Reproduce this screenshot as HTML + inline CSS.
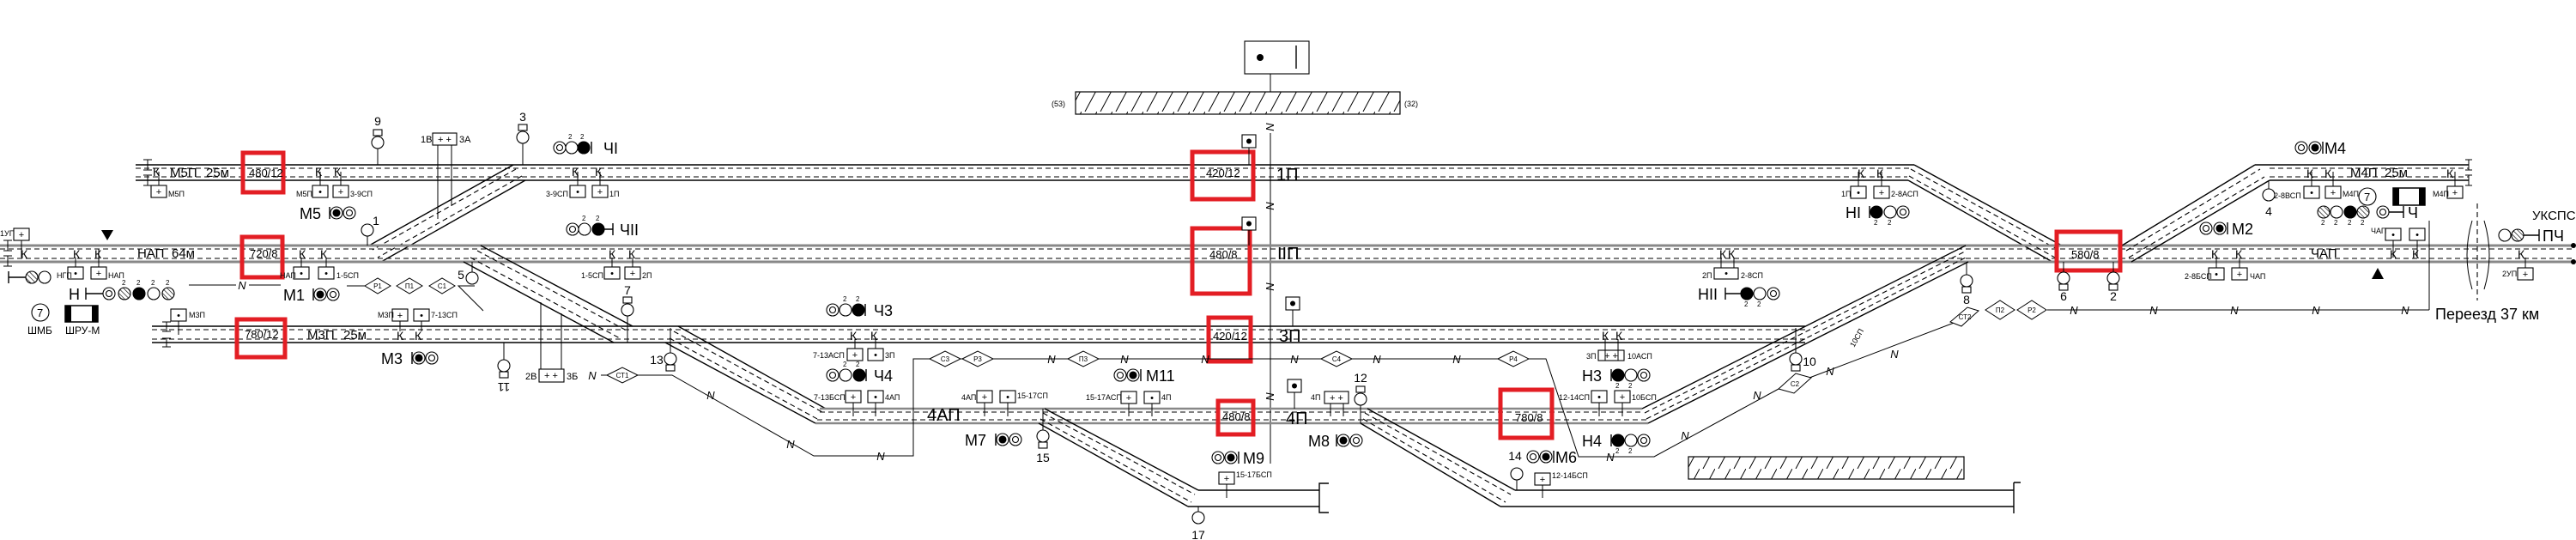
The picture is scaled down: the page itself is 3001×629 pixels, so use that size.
<!DOCTYPE html>
<html><head><meta charset="utf-8"><style>
html,body{margin:0;padding:0;background:#fff;}
svg{display:block;font-family:"Liberation Sans",sans-serif;}
.t{stroke:#000;stroke-width:1.4;fill:none}
.g{stroke:#888;stroke-width:3;fill:none}
.g2{stroke:#888;stroke-width:2.4;fill:none}
.d{stroke:#000;stroke-width:1.1;stroke-dasharray:6,4;fill:none}
.l{stroke:#000;stroke-width:1;fill:none}
.r{stroke:#e31e24;stroke-width:5;fill:none}
.bx{fill:#fff;stroke:#000;stroke-width:1.1}
.w{fill:#fff;stroke:#000;stroke-width:1.1}
.b{fill:#000;stroke:#000;stroke-width:1.1}
.h{fill:url(#hc);stroke:#000;stroke-width:1.1}
text{fill:#000}
.s{font-size:9px}
.k{font-size:14px}
.m{font-size:18px}
.n{font-size:13px;font-style:italic}
.dia{fill:#fff;stroke:#000;stroke-width:1}
</style></head><body>
<svg width="3001" height="629" viewBox="0 0 3001 629" xmlns="http://www.w3.org/2000/svg">
<defs>
<pattern id="hr" width="18" height="26" patternUnits="userSpaceOnUse"><line x1="4" y1="26" x2="18" y2="0" stroke="#000" stroke-width="1"/></pattern>
<pattern id="hc" width="4" height="4" patternUnits="userSpaceOnUse" patternTransform="rotate(-45)"><line x1="0" y1="0" x2="0" y2="4" stroke="#000" stroke-width="1.3"/></pattern>
</defs>

<rect x="1450" y="48" width="75" height="38" class="bx"/>
<circle cx="1468" cy="67" r="4" fill="#000"/>
<line x1="1510" y1="53" x2="1510" y2="80" class="t"/>
<line x1="1480" y1="86" x2="1480" y2="107" class="l"/>
<rect x="1253" y="107" width="378" height="26" fill="url(#hr)" stroke="#000" stroke-width="1.2"/>
<text x="1225" y="124" class="s" font-size="10">(53)</text>
<text x="1636" y="124" class="s" font-size="10">(32)</text>
<line x1="1480" y1="155" x2="1480" y2="540" class="l" stroke="#555"/>
<g class="n" font-size="12"><text transform="translate(1475,143) rotate(90)">N</text><text transform="translate(1475,235) rotate(90)">N</text><text transform="translate(1475,329) rotate(90)">N</text><text transform="translate(1475,457) rotate(90)">N</text></g>

<!-- Track 1П -->
<line x1="158" y1="192" x2="2230" y2="192" class="t"/>
<line x1="158" y1="210" x2="2223" y2="210" class="t"/>
<line x1="158" y1="196" x2="2225" y2="196" class="d"/>
<line x1="158" y1="206" x2="2222" y2="206" class="d"/>
<line x1="2230" y1="192" x2="2402" y2="286" class="t"/>
<line x1="2223" y1="210" x2="2391" y2="305" class="t"/>
<line x1="2226" y1="197" x2="2398" y2="291" class="d"/>
<line x1="2224" y1="205" x2="2394" y2="300" class="d"/>
<line x1="598" y1="192" x2="430" y2="286" class="t"/>
<line x1="612" y1="210" x2="444" y2="305" class="t"/>
<line x1="601" y1="197" x2="434" y2="291" class="d"/>
<line x1="608" y1="205" x2="440" y2="300" class="d"/>

<!-- Main track -->
<line x1="0" y1="286" x2="2998" y2="286" class="g"/>
<line x1="0" y1="305" x2="2998" y2="305" class="g"/>
<line x1="0" y1="290" x2="2998" y2="290" class="d"/>
<line x1="0" y1="301" x2="2998" y2="301" class="d"/>
<circle cx="2998" cy="286" r="3" fill="#000"/><circle cx="2998" cy="305" r="3" fill="#000"/>

<line x1="560" y1="286" x2="737" y2="380" class="t"/>
<line x1="540" y1="305" x2="715" y2="399" class="t"/>
<line x1="556" y1="292" x2="730" y2="385" class="d"/>
<line x1="548" y1="300" x2="722" y2="394" class="d"/>

<!-- Track 3П -->
<line x1="177" y1="380" x2="2103" y2="380" class="t"/>
<line x1="177" y1="399" x2="2103" y2="399" class="t"/>
<line x1="177" y1="384" x2="2103" y2="384" class="d"/>
<line x1="177" y1="395" x2="2103" y2="395" class="d"/>
<line x1="790" y1="380" x2="962" y2="476" class="t"/>
<line x1="775" y1="399" x2="950" y2="493" class="t"/>
<line x1="785" y1="386" x2="958" y2="480" class="d"/>
<line x1="780" y1="394" x2="954" y2="489" class="d"/>

<!-- Track 4П -->
<line x1="955" y1="476" x2="1913" y2="476" class="g2"/>
<line x1="950" y1="493" x2="1920" y2="493" class="g2"/>
<line x1="955" y1="480" x2="1915" y2="480" class="d"/>
<line x1="952" y1="489" x2="1918" y2="489" class="d"/>
<line x1="1913" y1="476" x2="2290" y2="286" class="t"/>
<line x1="1920" y1="493" x2="2293" y2="305" class="t"/>
<line x1="1916" y1="481" x2="2291" y2="292" class="d"/>
<line x1="1918" y1="488" x2="2292" y2="299" class="d"/>

<line x1="1217" y1="476" x2="1396" y2="571" class="t"/>
<line x1="1210" y1="493" x2="1384" y2="590" class="t"/>
<line x1="1215" y1="481" x2="1392" y2="576" class="d"/>
<line x1="1212" y1="488" x2="1388" y2="585" class="d"/>
<line x1="1396" y1="571" x2="1537" y2="571" class="t"/>
<line x1="1384" y1="590" x2="1537" y2="590" class="t"/>
<path d="M1548,563 H1537 V597 H1548" class="t"/>
<line x1="1593" y1="476" x2="1765" y2="571" class="t"/>
<line x1="1585" y1="493" x2="1748" y2="590" class="t"/>
<line x1="1590" y1="481" x2="1760" y2="576" class="d"/>
<line x1="1588" y1="488" x2="1754" y2="585" class="d"/>
<line x1="1765" y1="571" x2="2346" y2="571" class="t"/>
<line x1="1748" y1="590" x2="2346" y2="590" class="t"/>
<path d="M2346,562 V598 M2346,562 H2354" class="t"/>
<rect x="1967" y="532" width="321" height="26" fill="url(#hr)" stroke="#000" stroke-width="1.2"/>

<!-- M4П -->
<line x1="2627" y1="192" x2="2876" y2="192" class="t"/>
<line x1="2644" y1="210" x2="2876" y2="210" class="t"/>
<line x1="2472" y1="286" x2="2627" y2="192" class="t"/>
<line x1="2483" y1="305" x2="2644" y2="210" class="t"/>
<line x1="2477" y1="292" x2="2633" y2="197" class="d"/>
<line x1="2480" y1="300" x2="2638" y2="206" class="d"/>
<line x1="2644" y1="196" x2="2876" y2="196" class="d"/>
<line x1="2644" y1="206" x2="2876" y2="206" class="d"/>
<path d="M2872,186 h8 M2876,186 V198 M2872,198 h8 M2872,204 h8 M2876,204 V216 M2872,216 h8" class="l"/>

<path d="M167,186 h10 M172,186 V198 M167,198 h10 M167,204 h10 M172,204 V216 M167,216 h10" class="l"/>
<path d="M189,375 h10 M194,375 V386 M189,386 h10 M189,394 h10 M194,394 V404 M189,404 h10" class="l"/>
<path d="M4,280 h10 M9,280 V292 M4,292 h10 M4,298 h10 M9,298 V310 M4,310 h10" class="l"/>

<path d="M2880,257 Q2868,297 2880,337 M2894,257 Q2906,297 2894,337" class="l"/>
<line x1="2886" y1="237" x2="2886" y2="350" class="d" stroke="#444"/>

<rect x="283" y="178" width="47" height="46" class="r"/>
<rect x="282" y="276" width="47" height="47" class="r"/>
<rect x="276" y="372" width="56" height="44" class="r"/>
<rect x="1389" y="177" width="71" height="55" class="r"/>
<rect x="1389" y="266" width="67" height="76" class="r"/>
<rect x="1408" y="370" width="49" height="51" class="r"/>
<rect x="1419" y="467" width="41" height="39" class="r"/>
<rect x="1748" y="454" width="60" height="56" class="r"/>
<rect x="2396" y="270" width="74" height="45" class="r"/>

<g font-size="13">
<text x="290" y="206">480/12</text>
<text x="291" y="300">720/8</text>
<text x="285" y="394">780/12</text>
<text x="1405" y="206">420/12</text>
<text x="1409" y="301">480/8</text>
<text x="1413" y="396">420/12</text>
<text x="1424" y="490">480/8</text>
<text x="1765" y="491">780/8</text>
<text x="2413" y="301">580/8</text>
</g>
<g font-size="15">
<text x="198" y="206">М5П</text><text x="240" y="206">25м</text>
<text x="160" y="300">НАП</text><text x="200" y="300">64м</text>
<text x="358" y="395">М3П</text><text x="400" y="395">25м</text>
<text x="2738" y="206">М4П</text><text x="2778" y="206">25м</text>
<text x="2692" y="300">ЧАП</text>
</g>
<g font-size="20">
<text x="1487" y="210">1П</text><text x="1488" y="302">ІІП</text><text x="1490" y="398">3П</text><text x="1498" y="494">4П</text><text x="1080" y="490">4АП</text>
</g>
<g class="k">
<text x="178" y="205">К</text><text x="367" y="205">К</text><text x="389" y="205">К</text><text x="666" y="205">К</text><text x="693" y="205">К</text>
<text x="2164" y="207">К</text><text x="2186" y="207">К</text><text x="2687" y="207">К</text><text x="2708" y="207">К</text><text x="2850" y="207">К</text>
<text x="24" y="301">К</text><text x="85" y="301">К</text><text x="110" y="301">К</text><text x="348" y="301">К</text><text x="373" y="301">К</text>
<text x="709" y="301">К</text><text x="732" y="301">К</text><text x="2003" y="301">К</text><text x="2013" y="301">К</text>
<text x="2576" y="301">К</text><text x="2604" y="301">К</text><text x="2784" y="301">К</text><text x="2810" y="301">К</text><text x="2933" y="301">К</text>
<text x="462" y="396">К</text><text x="483" y="396">К</text><text x="990" y="396">К</text><text x="1014" y="396">К</text><text x="1866" y="396">К</text><text x="1882" y="396">К</text>
</g>

<g font-size="11" text-anchor="middle">
<rect x="16" y="266" width="18" height="14" class="bx"/><text x="25" y="277">+</text>
<rect x="79" y="311" width="18" height="14" class="bx"/><text x="88" y="322">•</text>
<rect x="106" y="311" width="18" height="14" class="bx"/><text x="115" y="322">+</text>
<rect x="176" y="216" width="18" height="14" class="bx"/><text x="185" y="227">+</text>
<rect x="364" y="216" width="18" height="14" class="bx"/><text x="373" y="227">•</text>
<rect x="388" y="216" width="18" height="14" class="bx"/><text x="397" y="227">+</text>
<rect x="664" y="216" width="18" height="14" class="bx"/><text x="673" y="227">•</text>
<rect x="690" y="216" width="18" height="14" class="bx"/><text x="699" y="227">+</text>
<rect x="342" y="311" width="18" height="14" class="bx"/><text x="351" y="322">•</text>
<rect x="371" y="311" width="18" height="14" class="bx"/><text x="380" y="322">•</text>
<rect x="704" y="311" width="18" height="14" class="bx"/><text x="713" y="322">•</text>
<rect x="728" y="311" width="18" height="14" class="bx"/><text x="737" y="322">+</text>
<rect x="504" y="155" width="28" height="14" class="bx"/><text x="518" y="166">+ +</text>
<rect x="628" y="430" width="29" height="15" class="bx"/><text x="642" y="441">+ +</text>
<rect x="199" y="360" width="18" height="14" class="bx"/><text x="208" y="371">•</text>
<rect x="457" y="360" width="18" height="14" class="bx"/><text x="466" y="371">+</text>
<rect x="482" y="360" width="18" height="14" class="bx"/><text x="491" y="371">•</text>
<rect x="987" y="406" width="18" height="14" class="bx"/><text x="996" y="417">+</text>
<rect x="1011" y="406" width="18" height="14" class="bx"/><text x="1020" y="417">•</text>
<rect x="985" y="455" width="18" height="14" class="bx"/><text x="994" y="466">+</text>
<rect x="1011" y="455" width="18" height="14" class="bx"/><text x="1020" y="466">•</text>
<rect x="1138" y="455" width="18" height="14" class="bx"/><text x="1147" y="466">+</text>
<rect x="1165" y="455" width="18" height="14" class="bx"/><text x="1174" y="466">•</text>
<rect x="1306" y="456" width="18" height="14" class="bx"/><text x="1315" y="467">+</text>
<rect x="1333" y="456" width="18" height="14" class="bx"/><text x="1342" y="467">•</text>
<rect x="1543" y="456" width="28" height="14" class="bx"/><text x="1557" y="467">+ +</text>
<rect x="1420" y="550" width="18" height="14" class="bx"/><text x="1429" y="561">+</text>
<rect x="1788" y="551" width="18" height="14" class="bx"/><text x="1797" y="562">+</text>
<rect x="1854" y="455" width="18" height="14" class="bx"/><text x="1863" y="466">•</text>
<rect x="1881" y="455" width="18" height="14" class="bx"/><text x="1890" y="466">+</text>
<rect x="1862" y="408" width="30" height="12" class="bx"/><text x="1877" y="418">+ +</text>
<rect x="2156" y="217" width="18" height="14" class="bx"/><text x="2165" y="228">•</text>
<rect x="2183" y="217" width="18" height="14" class="bx"/><text x="2192" y="228">+</text>
<rect x="1997" y="312" width="28" height="13" class="bx"/><text x="2011" y="322">•</text>
<rect x="2573" y="312" width="18" height="14" class="bx"/><text x="2582" y="323">•</text>
<rect x="2600" y="312" width="18" height="14" class="bx"/><text x="2609" y="323">+</text>
<rect x="2779" y="266" width="18" height="14" class="bx"/><text x="2788" y="277">•</text>
<rect x="2807" y="266" width="18" height="14" class="bx"/><text x="2816" y="277">•</text>
<rect x="2933" y="312" width="18" height="14" class="bx"/><text x="2942" y="323">+</text>
<rect x="2684" y="217" width="18" height="14" class="bx"/><text x="2693" y="228">•</text>
<rect x="2709" y="217" width="18" height="14" class="bx"/><text x="2718" y="228">+</text>
<rect x="2851" y="217" width="18" height="14" class="bx"/><text x="2860" y="228">+</text>
</g>
<g class="s" font-size="8.5">
<text x="0" y="275">1УП</text><text x="66" y="324">НГП</text><text x="126" y="324">НАП</text>
<text x="196" y="229">М5П</text><text x="345" y="229">М5П</text><text x="408" y="229">3-9СП</text>
<text x="636" y="229">3-9СП</text><text x="710" y="229">1П</text>
<text x="326" y="324">НАП</text><text x="392" y="324">1-5СП</text><text x="677" y="324">1-5СП</text><text x="748" y="324">2П</text>
<text x="490" y="166" font-size="11">1В</text><text x="535" y="166" font-size="11">3А</text>
<text x="612" y="442" font-size="11">2В</text><text x="660" y="442" font-size="11">3Б</text>
<text x="220" y="370">М3П</text><text x="440" y="370">М3П</text><text x="502" y="370">7-13СП</text>
<text x="947" y="417">7-13АСП</text><text x="1031" y="417">3П</text>
<text x="948" y="466">7-13БСП</text><text x="1031" y="466">4АП</text>
<text x="1120" y="466">4АП</text><text x="1185" y="464">15-17СП</text>
<text x="1265" y="466">15-17АСП</text><text x="1353" y="466">4П</text><text x="1527" y="466">4П</text>
<text x="1440" y="556">15-17БСП</text><text x="1808" y="557">12-14БСП</text>
<text x="1816" y="466">12-14СП</text><text x="1901" y="466">10БСП</text>
<text x="1848" y="418">3П</text><text x="1896" y="418">10АСП</text>
<text x="2145" y="229">1П</text><text x="2203" y="229">2-8АСП</text>
<text x="1983" y="324">2П</text><text x="2028" y="324">2-8СП</text>
<text x="2545" y="325">2-8БСП</text><text x="2621" y="325">ЧАП</text>
<text x="2762" y="272">ЧАП</text><text x="2915" y="322">2УП</text>
<text x="2649" y="231">2-8ВСП</text><text x="2729" y="229">М4П</text><text x="2834" y="229">М4П</text>
<text x="2160" y="405" transform="rotate(-60 2160 405)">10СП</text>
</g>

<g class="l">
<path d="M25,280 V300 M88,311 V300 M115,311 V290 M185,216 V200 M373,216 V200 M397,216 V200 M673,216 V200 M699,216 V200"/>
<path d="M351,311 V300 M380,311 V300 M713,311 V300 M737,311 V300 M510,169 V255 M526,169 V240 M630,430 V352 M654,430 V365"/>
<path d="M208,374 V390 M466,374 V386 M491,374 V386 M996,406 V395 M1020,406 V395 M994,469 V485 M1020,469 V485 M1147,469 V485 M1174,469 V485"/>
<path d="M1315,470 V485 M1342,470 V485 M1550,470 V485 M1565,470 V485 M1429,564 V580 M1797,565 V580 M1863,469 V485 M1890,469 V485 M1870,420 V395 M1885,420 V395"/>
<path d="M2165,217 V200 M2192,217 V200 M2005,312 V300 M2020,312 V300 M2582,312 V300 M2609,312 V300 M2788,280 V300 M2816,280 V300 M2942,312 V300 M2693,217 V200 M2718,217 V200 M2860,217 V200"/>
<path d="M1455,172 V192 M1455,268 V286 M1506,361 V380 M1508,457 V476"/>
<path d="M2830,257 V361"/>
</g>
<g>
<rect x="1447" y="157" width="16" height="15" class="bx"/><circle cx="1455" cy="164.5" r="3" fill="#000"/>
<rect x="1447" y="253" width="16" height="15" class="bx"/><circle cx="1455" cy="260.5" r="3" fill="#000"/>
<rect x="1498" y="346" width="16" height="15" class="bx"/><circle cx="1506" cy="353.5" r="3" fill="#000"/>
<rect x="1500" y="442" width="16" height="15" class="bx"/><circle cx="1508" cy="449.5" r="3" fill="#000"/>
</g>

<g>
<circle cx="440" cy="166" r="7" class="w"/><rect x="435" y="151" width="10" height="7" class="w"/><line x1="440" y1="173" x2="440" y2="192" class="l"/>
<circle cx="609" cy="160" r="7" class="w"/><rect x="604" y="145" width="10" height="7" class="w"/><line x1="609" y1="167" x2="609" y2="192" class="l"/>
<circle cx="428" cy="268" r="7" class="w"/><line x1="428" y1="275" x2="428" y2="286" class="l"/>
<circle cx="550" cy="324" r="7" class="w"/><line x1="550" y1="305" x2="550" y2="317" class="l"/>
<circle cx="731" cy="361" r="7" class="w"/><rect x="726" y="346" width="10" height="7" class="w"/><line x1="731" y1="368" x2="731" y2="399" class="l"/>
<circle cx="587" cy="426" r="7" class="w"/><rect x="582" y="433" width="10" height="7" class="w"/><line x1="587" y1="399" x2="587" y2="419" class="l"/>
<circle cx="781" cy="418" r="7" class="w"/><rect x="776" y="425" width="10" height="7" class="w"/><line x1="781" y1="411" x2="781" y2="382" class="l"/>
<circle cx="1215" cy="508" r="7" class="w"/><rect x="1210" y="515" width="10" height="7" class="w"/><line x1="1215" y1="476" x2="1215" y2="501" class="l"/>
<circle cx="1396" cy="603" r="7" class="w"/><line x1="1396" y1="590" x2="1396" y2="596" class="l"/>
<circle cx="1585" cy="465" r="7" class="w"/><rect x="1580" y="450" width="10" height="7" class="w"/><line x1="1585" y1="472" x2="1585" y2="493" class="l"/>
<circle cx="1767" cy="552" r="7" class="w"/><line x1="1767" y1="559" x2="1767" y2="571" class="l"/>
<circle cx="2092" cy="418" r="7" class="w"/><rect x="2087" y="425" width="10" height="7" class="w"/><line x1="2092" y1="411" x2="2092" y2="382" class="l"/>
<circle cx="2291" cy="327" r="7" class="w"/><rect x="2286" y="334" width="10" height="7" class="w"/><line x1="2291" y1="305" x2="2291" y2="320" class="l"/>
<circle cx="2404" cy="324" r="7" class="w"/><rect x="2399" y="331" width="10" height="7" class="w"/><line x1="2404" y1="305" x2="2404" y2="317" class="l"/>
<circle cx="2462" cy="324" r="7" class="w"/><rect x="2457" y="331" width="10" height="7" class="w"/><line x1="2462" y1="305" x2="2462" y2="317" class="l"/>
<circle cx="2643" cy="227" r="7" class="w"/><line x1="2643" y1="210" x2="2643" y2="220" class="l"/>
</g>
<g font-size="14" text-anchor="middle">
<text x="440" y="146">9</text><text x="609" y="141">3</text><text x="438" y="262">1</text><text x="537" y="325">5</text><text x="731" y="343">7</text>
<text x="587" y="456" transform="rotate(180 587 451)">11</text><text x="765" y="424">13</text><text x="1215" y="538">15</text><text x="1396" y="628">17</text>
<text x="1585" y="445">12</text><text x="1765" y="536">14</text><text x="2108" y="426">10</text><text x="2291" y="354">8</text><text x="2404" y="350">6</text><text x="2462" y="350">2</text><text x="2643" y="251">4</text>
</g>

<g>
<circle cx="652" cy="172" r="7" class="w"/><circle cx="652" cy="172" r="3.5" class="w"/><circle cx="666" cy="172" r="7" class="w"/><circle cx="680" cy="172" r="7" class="b"/><line x1="689" y1="165" x2="689" y2="179" class="t"/>
<circle cx="667" cy="267" r="7" class="w"/><circle cx="667" cy="267" r="3.5" class="w"/><circle cx="681" cy="267" r="7" class="w"/><circle cx="697" cy="267" r="7" class="b"/><path d="M704,267 H714 M714,260 V274" class="t"/>
<line x1="384" y1="241" x2="384" y2="255" class="t"/><circle cx="392" cy="248" r="7" class="w"/><circle cx="392" cy="248" r="4" class="b"/><circle cx="407" cy="248" r="7" class="w"/><circle cx="407" cy="248" r="3.5" class="w"/>
<line x1="365" y1="336" x2="365" y2="350" class="t"/><circle cx="373" cy="343" r="7" class="w"/><circle cx="373" cy="343" r="4" class="b"/><circle cx="388" cy="343" r="7" class="w"/><circle cx="388" cy="343" r="3.5" class="w"/>
<line x1="480" y1="410" x2="480" y2="424" class="t"/><circle cx="488" cy="417" r="7" class="w"/><circle cx="488" cy="417" r="4" class="b"/><circle cx="503" cy="417" r="7" class="w"/><circle cx="503" cy="417" r="3.5" class="w"/>
<path d="M100,335 V349 M100,342 H120" class="t"/><circle cx="127" cy="342" r="7" class="w"/><circle cx="127" cy="342" r="3.5" class="w"/><circle cx="145" cy="342" r="7" class="h"/><circle cx="162" cy="342" r="7" class="b"/><circle cx="179" cy="342" r="7" class="w"/><circle cx="196" cy="342" r="7" class="h"/>
<path d="M10,316 V330 M10,323 H30" class="t"/><circle cx="37" cy="323" r="7" class="h"/><circle cx="52" cy="323" r="7" class="w"/>
<circle cx="47" cy="364" r="10" class="w"/><text x="43" y="369" font-size="13">7</text>
<rect x="76" y="356" width="38" height="19" fill="#fff" stroke="#000" stroke-width="1.5"/><rect x="76" y="356" width="7" height="19" fill="#000"/><rect x="107" y="356" width="7" height="19" fill="#000"/>
<circle cx="970" cy="361" r="7" class="w"/><circle cx="970" cy="361" r="3.5" class="w"/><circle cx="985" cy="361" r="7" class="w"/><circle cx="1000" cy="361" r="7" class="b"/><line x1="1008" y1="354" x2="1008" y2="368" class="t"/>
<circle cx="970" cy="437" r="7" class="w"/><circle cx="970" cy="437" r="3.5" class="w"/><circle cx="985" cy="437" r="7" class="w"/><circle cx="1001" cy="437" r="7" class="b"/><line x1="1009" y1="430" x2="1009" y2="444" class="t"/>
<circle cx="1305" cy="437" r="7" class="w"/><circle cx="1305" cy="437" r="3.5" class="w"/><circle cx="1320" cy="437" r="7" class="w"/><circle cx="1320" cy="437" r="4" class="b"/><line x1="1329" y1="430" x2="1329" y2="444" class="t"/>
<line x1="1160" y1="505" x2="1160" y2="519" class="t"/><circle cx="1168" cy="512" r="7" class="w"/><circle cx="1168" cy="512" r="4" class="b"/><circle cx="1183" cy="512" r="7" class="w"/><circle cx="1183" cy="512" r="3.5" class="w"/>
<circle cx="1419" cy="533" r="7" class="w"/><circle cx="1419" cy="533" r="3.5" class="w"/><circle cx="1434" cy="533" r="7" class="w"/><circle cx="1434" cy="533" r="4" class="b"/><line x1="1443" y1="526" x2="1443" y2="540" class="t"/>
<line x1="1557" y1="506" x2="1557" y2="520" class="t"/><circle cx="1565" cy="513" r="7" class="w"/><circle cx="1565" cy="513" r="4" class="b"/><circle cx="1580" cy="513" r="7" class="w"/><circle cx="1580" cy="513" r="3.5" class="w"/>
<circle cx="1786" cy="532" r="7" class="w"/><circle cx="1786" cy="532" r="3.5" class="w"/><circle cx="1801" cy="532" r="7" class="w"/><circle cx="1801" cy="532" r="4" class="b"/><line x1="1810" y1="525" x2="1810" y2="539" class="t"/>
<line x1="1877" y1="430" x2="1877" y2="444" class="t"/><circle cx="1885" cy="437" r="7" class="b"/><circle cx="1900" cy="437" r="7" class="w"/><circle cx="1915" cy="437" r="7" class="w"/><circle cx="1915" cy="437" r="3.5" class="w"/>
<line x1="1877" y1="506" x2="1877" y2="520" class="t"/><circle cx="1885" cy="513" r="7" class="b"/><circle cx="1900" cy="513" r="7" class="w"/><circle cx="1915" cy="513" r="7" class="w"/><circle cx="1915" cy="513" r="3.5" class="w"/>
<line x1="2178" y1="240" x2="2178" y2="254" class="t"/><circle cx="2186" cy="247" r="7" class="b"/><circle cx="2202" cy="247" r="7" class="w"/><circle cx="2217" cy="247" r="7" class="w"/><circle cx="2217" cy="247" r="3.5" class="w"/>
<path d="M2010,335 V349 M2010,342 H2028" class="t"/><circle cx="2035" cy="342" r="7" class="b"/><circle cx="2050" cy="342" r="7" class="w"/><circle cx="2066" cy="342" r="7" class="w"/><circle cx="2066" cy="342" r="3.5" class="w"/>
<circle cx="2570" cy="266" r="7" class="w"/><circle cx="2570" cy="266" r="3.5" class="w"/><circle cx="2586" cy="266" r="7" class="w"/><circle cx="2586" cy="266" r="4" class="b"/><line x1="2595" y1="259" x2="2595" y2="273" class="t"/>
<circle cx="2681" cy="172" r="7" class="w"/><circle cx="2681" cy="172" r="3.5" class="w"/><circle cx="2697" cy="172" r="7" class="w"/><circle cx="2697" cy="172" r="4" class="b"/><line x1="2706" y1="165" x2="2706" y2="179" class="t"/>
<circle cx="2707" cy="247" r="7" class="h"/><circle cx="2722" cy="247" r="7" class="w"/><circle cx="2738" cy="247" r="7" class="b"/><circle cx="2753" cy="247" r="7" class="h"/><circle cx="2776" cy="247" r="7" class="w"/><circle cx="2776" cy="247" r="3.5" class="w"/><path d="M2783,247 H2800 M2800,240 V254" class="t"/>
<circle cx="2758" cy="229" r="10" class="w"/><text x="2754" y="234" font-size="13">7</text>
<rect x="2788" y="219" width="37" height="20" fill="#fff" stroke="#000" stroke-width="1.5"/><rect x="2788" y="219" width="7" height="20" fill="#000"/><rect x="2818" y="219" width="7" height="20" fill="#000"/>
<circle cx="2918" cy="274" r="7" class="w"/><circle cx="2933" cy="274" r="7" class="h"/><path d="M2940,274 H2958 M2958,267 V281" class="t"/>
<polygon points="118,268 132,268 125,280" fill="#000"/>
<polygon points="2770,312 2763,325 2777,325" fill="#000"/>
</g>
<g font-size="8">
<text x="662" y="162">2</text><text x="676" y="162">2</text><text x="678" y="257">2</text><text x="694" y="257">2</text>
<text x="142" y="332">2</text><text x="159" y="332">2</text><text x="176" y="332">2</text><text x="193" y="332">2</text>
<text x="982" y="351">2</text><text x="997" y="351">2</text><text x="982" y="427">2</text><text x="997" y="427">2</text>
<text x="1882" y="452">2</text><text x="1897" y="452">2</text><text x="1882" y="528">2</text><text x="1897" y="528">2</text>
<text x="2183" y="262">2</text><text x="2199" y="262">2</text><text x="2032" y="357">2</text><text x="2047" y="357">2</text>
<text x="2704" y="262">2</text><text x="2719" y="262">2</text><text x="2735" y="262">2</text><text x="2750" y="262">2</text>
</g>
<g class="m">
<text x="703" y="179">ЧI</text><text x="722" y="274">ЧII</text><text x="349" y="255">М5</text><text x="330" y="350">М1</text><text x="444" y="424">М3</text>
<text x="80" y="349">Н</text><text x="1018" y="368">Ч3</text><text x="1018" y="444">Ч4</text><text x="1335" y="444">М11</text>
<text x="1124" y="519">М7</text><text x="1448" y="540">М9</text><text x="1524" y="520">М8</text><text x="1812" y="539">М6</text>
<text x="1843" y="444">Н3</text><text x="1843" y="520">Н4</text><text x="2150" y="254">НI</text><text x="1978" y="349">НII</text>
<text x="2600" y="273">М2</text><text x="2708" y="179">М4</text><text x="2805" y="254">Ч</text><text x="2962" y="281">ПЧ</text>
<text x="2837" y="372">Переезд 37 км</text>
</g>
<text x="2950" y="256" font-size="15">УКСПС</text>
<text x="32" y="389" font-size="12">ШМБ</text><text x="76" y="389" font-size="12">ШРУ-М</text>

<g class="l">
<path d="M220,332 H275 M290,332 H327"/>
<path d="M404,333 H425 M553,333 H534 L563,362"/>
<path d="M700,437 H707 M743,437 H783 L948,531 H1064 V418 H1780 L1801,418 L1839,532 H1927 L2072,453 M2108,440 L2279,375 M2385,361 H2830"/>
</g>
<g>
<polygon points="425,333 440,324 455,333 440,342" class="dia"/><polygon points="462,333 477,324 492,333 477,342" class="dia"/><polygon points="500,333 515,324 530,333 515,342" class="dia"/>
<polygon points="707,437 725,428 743,437 725,446" class="dia"/>
<polygon points="1083,418 1101,409 1119,418 1101,427" class="dia"/><polygon points="1121,418 1139,409 1157,418 1139,427" class="dia"/>
<polygon points="1244,418 1262,409 1280,418 1262,427" class="dia"/><polygon points="1539,418 1557,409 1575,418 1557,427" class="dia"/><polygon points="1745,418 1763,409 1781,418 1763,427" class="dia"/>
<polygon points="2072,453 2092,435 2110,440 2090,458" class="dia"/>
<polygon points="2272,375 2292,358 2305,362 2285,380" class="dia"/>
<polygon points="2313,361 2330,350 2347,361 2330,372" class="dia"/><polygon points="2350,361 2367,350 2384,361 2367,372" class="dia"/>
</g>
<g font-size="8" text-anchor="middle">
<text x="440" y="336">Р1</text><text x="477" y="336">П1</text><text x="515" y="336">С1</text><text x="725" y="440">СТ1</text>
<text x="1101" y="421">С3</text><text x="1139" y="421">Р3</text><text x="1262" y="421">П3</text><text x="1557" y="421">С4</text><text x="1763" y="421">Р4</text>
<text x="2091" y="450">С2</text><text x="2289" y="372">СТ2</text><text x="2330" y="364">П2</text><text x="2367" y="364">Р2</text>
</g>
<g class="n" text-anchor="middle" font-size="14">
<text x="282" y="337">N</text><text x="690" y="442">N</text><text x="828" y="465">N</text><text x="921" y="522">N</text><text x="1026" y="536">N</text>
<text x="1225" y="423">N</text><text x="1310" y="423">N</text><text x="1404" y="423">N</text><text x="1508" y="423">N</text><text x="1604" y="423">N</text><text x="1697" y="423">N</text>
<text x="1876" y="537">N</text><text x="1963" y="512">N</text><text x="2047" y="465">N</text><text x="2132" y="437">N</text><text x="2207" y="417">N</text>
<text x="2416" y="366">N</text><text x="2509" y="366">N</text><text x="2603" y="366">N</text><text x="2698" y="366">N</text><text x="2802" y="366">N</text>
</g>
</svg>
</body></html>
